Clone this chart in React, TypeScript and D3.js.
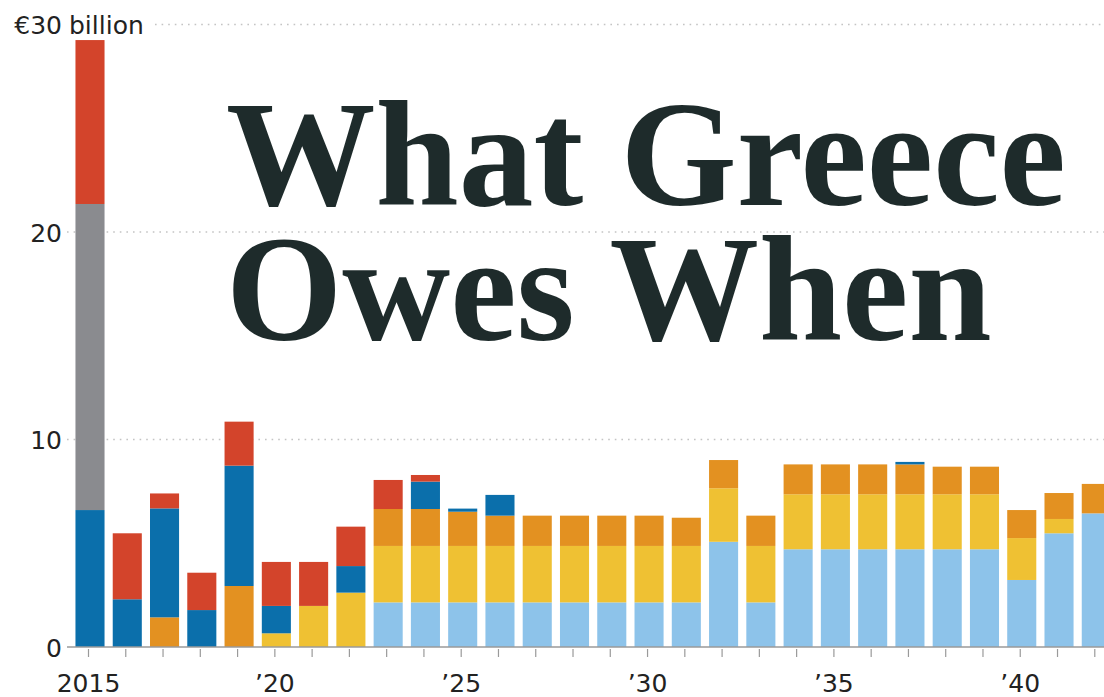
import React from "react";
import * as d3 from "d3";

const years: number[] = d3.range(2015, 2043);

// Series values (€ billion), stacked bottom → top
const efsf: number[] = [0, 0, 0, 0, 0, 0, 0, 0, 2.15, 2.15, 2.15, 2.15, 2.15, 2.15, 2.15, 2.15, 2.15, 5.07, 2.15, 4.71, 4.71, 4.71, 4.71, 4.71, 4.71, 3.23, 5.48, 6.44];
const greekLoanFacility: number[] = [0, 0, 0, 0, 0, 0.66, 1.98, 2.62, 2.72, 2.72, 2.72, 2.72, 2.72, 2.72, 2.72, 2.72, 2.72, 2.58, 2.72, 2.65, 2.65, 2.65, 2.65, 2.65, 2.65, 2.02, 0.69, 0];
const privateBonds: number[] = [0, 0, 1.43, 0, 2.94, 0, 0, 0, 1.78, 1.78, 1.65, 1.46, 1.46, 1.46, 1.46, 1.46, 1.36, 1.36, 1.46, 1.44, 1.44, 1.44, 1.44, 1.33, 1.33, 1.35, 1.25, 1.42];
const ecb: number[] = [6.6, 2.3, 5.25, 1.78, 5.8, 1.32, 0, 1.28, 0, 1.32, 0.15, 1.0, 0, 0, 0, 0, 0, 0, 0, 0, 0, 0, 0.12, 0, 0, 0, 0, 0];
const tBills: number[] = [14.75, 0, 0, 0, 0, 0, 0, 0, 0, 0, 0, 0, 0, 0, 0, 0, 0, 0, 0, 0, 0, 0, 0, 0, 0, 0, 0, 0];
const imf: number[] = [7.9, 3.18, 0.72, 1.8, 2.12, 2.12, 2.12, 1.9, 1.4, 0.32, 0, 0, 0, 0, 0, 0, 0, 0, 0, 0, 0, 0, 0, 0, 0, 0, 0, 0];

const seriesKeys = ["efsf", "greekLoanFacility", "privateBonds", "ecb", "tBills", "imf"];
const seriesColors: Record<string, string> = {
  efsf: "#8dc3ea",
  greekLoanFacility: "#efc133",
  privateBonds: "#e39121",
  ecb: "#0b6fab",
  tBills: "#8a8b8f",
  imf: "#d3442b",
};

const yTicks: number[] = [0, 10, 20, 30];
const xTickYears: number[] = [2015, 2020, 2025, 2030, 2035, 2040];
const xTickLabel = (y: number) => (y === 2015 ? "2015" : "\u2019" + String(y).slice(2));

const titleLines: string[] = ["What Greece", "Owes When"];

const W = 1104;
const H = 697;

export default function App() {
  const rows = years.map((yr, i) => ({
    year: yr,
    efsf: efsf[i],
    greekLoanFacility: greekLoanFacility[i],
    privateBonds: privateBonds[i],
    ecb: ecb[i],
    tBills: tBills[i],
    imf: imf[i],
  }));
  const stacked = d3.stack<any>().keys(seriesKeys)(rows);

  const step = 37.27;
  const x0 = 90 - step / 2;
  const x = d3
    .scaleBand<number>()
    .domain(years)
    .range([x0, x0 + step * years.length])
    .paddingInner(0.22)
    .paddingOuter(0.11);
  const y = d3.scaleLinear().domain([0, 30]).range([647, 24.5]);
  const cx = (yr: number) => (x(yr) as number) + x.bandwidth() / 2;

  const font = "'DejaVu Sans', sans-serif";
  const axisStart = 67;

  return (
    <svg
      width={W}
      height={H}
      style={{ position: "absolute", left: 0, top: 0, background: "#fff" }}
    >
      <rect width={W} height={H} fill="#fff" />
      {/* gridlines */}
      {yTicks
        .filter((t) => t > 0)
        .map((t) => (
          <line
            key={"g" + t}
            x1={t === 30 ? 155 : axisStart}
            x2={W}
            y1={y(t)}
            y2={y(t)}
            stroke="#c4c4c4"
            strokeWidth={1.6}
            strokeDasharray="1.6,5"
          />
        ))}
      {/* title */}
      {titleLines.map((line, i) => (
        <text
          key={"t" + i}
          x={226}
          y={205 + i * 135}
          fontFamily="'Liberation Serif', serif"
          fontWeight="bold"
          fontSize={149.5}
          fill="#1e2b2b"
        >
          {line}
        </text>
      ))}
      {/* bars */}
      {stacked.map((s) => (
        <g key={s.key} fill={seriesColors[s.key]}>
          {s.map((d, i) =>
            d[1] - d[0] > 0 ? (
              <rect
                key={i}
                x={x(years[i]) as number}
                width={x.bandwidth()}
                y={y(d[1])}
                height={y(d[0]) - y(d[1])}
              />
            ) : null
          )}
        </g>
      ))}
      {/* axis */}
      <line x1={axisStart} x2={W} y1={y(0)} y2={y(0)} stroke="#9a9a9a" strokeWidth={1.5} />
      {years.map((yr) => (
        <line
          key={"k" + yr}
          x1={cx(yr) - 1.5}
          x2={cx(yr) - 1.5}
          y1={y(0) + 2}
          y2={y(0) + 10}
          stroke="#9a9a9a"
          strokeWidth={1.2}
        />
      ))}
      {xTickYears.map((yr) => (
        <text
          key={"xl" + yr}
          x={cx(yr) - 1.5}
          y={692}
          textAnchor="middle"
          fontFamily={font}
          fontSize={25}
          fill="#222"
        >
          {xTickLabel(yr)}
        </text>
      ))}
      {/* y labels */}
      {yTicks.map((t) => (
        <text
          key={"yl" + t}
          x={62}
          y={y(t) + 9.5}
          textAnchor="end"
          fontFamily={font}
          fontSize={25}
          fill="#222"
        >
          {t === 30 ? "\u20ac30" : String(t)}
        </text>
      ))}
      <text x={69} y={y(30) + 9.5} fontFamily={font} fontSize={25} fill="#222">
        billion
      </text>
    </svg>
  );
}
